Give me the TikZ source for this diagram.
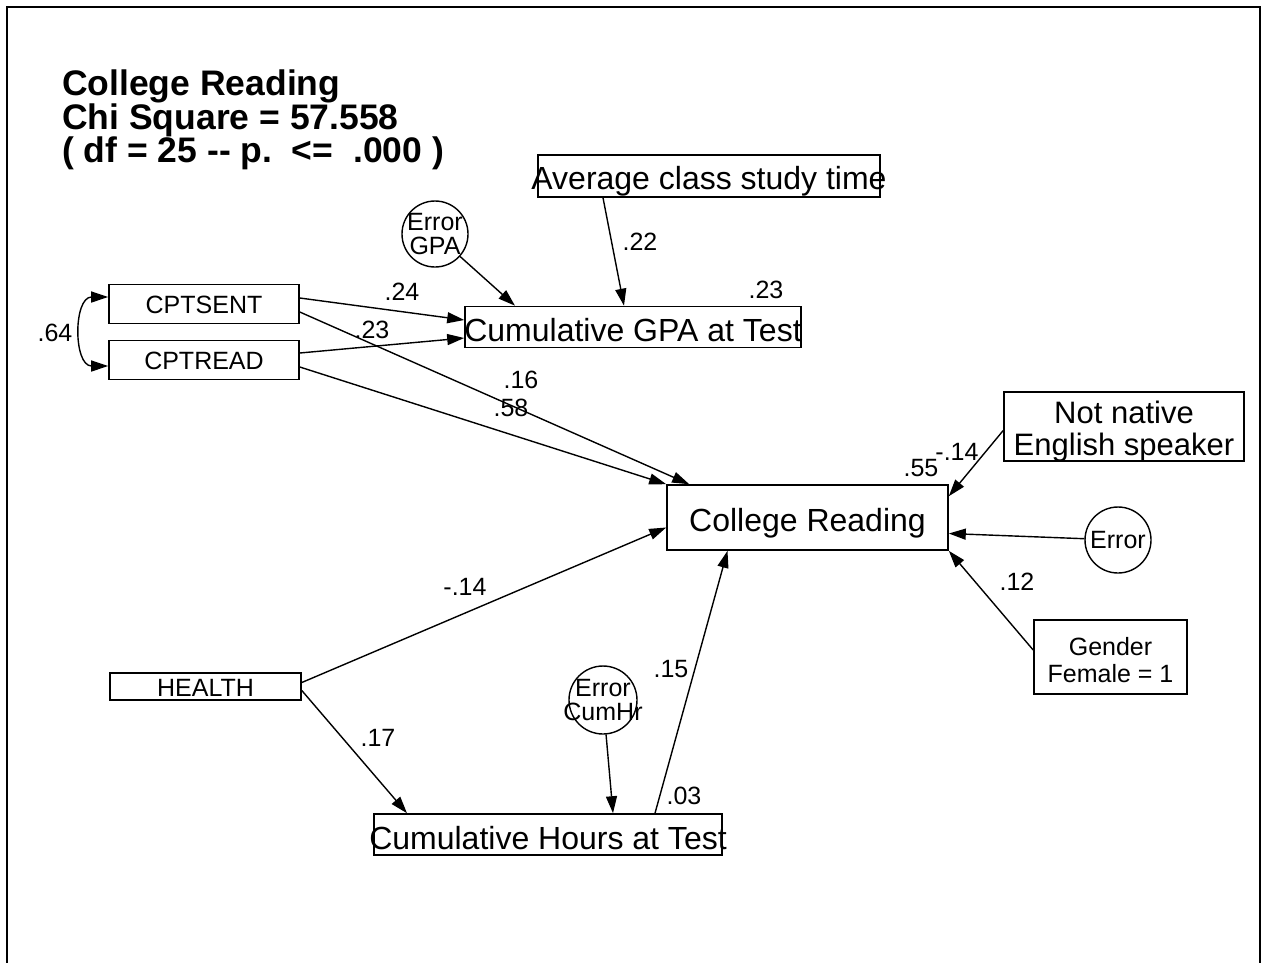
\documentclass[tikz,border=0pt]{standalone}
\usepackage{fontspec}
\setmainfont{Liberation Sans}
\usetikzlibrary{arrows.meta}
\begin{document}
\begin{tikzpicture}[x=1pt,y=-1pt,
  box/.style={draw, line width=1.6pt, rectangle, inner sep=0pt},
  circ/.style={draw, line width=1.4pt, circle, inner sep=0pt, minimum size=66pt},
  arr/.style={line width=1.4pt, -{Triangle[length=17pt,width=11pt]}},
  coef/.style={font=\fontsize{25}{27}\selectfont, inner sep=0pt},
  fbig/.style={font=\fontsize{32}{34}\selectfont},
  fmid/.style={font=\fontsize{31}{32}\selectfont, align=center},
  fsmall/.style={font=\fontsize{25}{27}\selectfont, align=center},
  fcirc/.style={font=\fontsize{25}{24}\selectfont, align=center, inner sep=0pt},
  ttl/.style={anchor=base west, inner sep=0pt, font=\fontsize{35.5}{36}\selectfont\bfseries}]
\useasboundingbox (0,0) rectangle (1266,962);
% frame
\draw[line width=1.6pt] (7,975) -- (7,7) -- (1260,7) -- (1260,975);
% title
\node[ttl] (t1) at (62,95) {College Reading};
\node[ttl] (t2) at (62,129) {Chi Square = 57.558};
\node[ttl] (t3) at (62,162) {( df = 25 -{}- p.\ \ <=\ \ .000 )};
% nodes
\node[box, minimum width=342pt, minimum height=42pt, label={[fbig, yshift=-5pt]center:Average class study time}] (avg) at (709,176) {};
\node[circ, label={[fcirc]center:Error\\GPA}] (errgpa) at (435,234) {};
\node[box, minimum width=190pt, minimum height=39pt, label={[fsmall, yshift=-1pt]center:CPTSENT}] (sent) at (204,304) {};
\node[box, minimum width=190pt, minimum height=39pt, label={[fsmall, yshift=-1pt]center:CPTREAD}] (read) at (204,360) {};
\node[box, minimum width=336pt, minimum height=41pt, label={[fbig, yshift=-3pt]center:Cumulative GPA at Test}] (gpa) at (633,327) {};
\node[box, minimum width=281pt, minimum height=65pt, label={[fbig, yshift=-6pt]center:College Reading}] (cr) at (807.5,517.5) {};
\node[box, minimum width=240pt, minimum height=69pt, label={[fmid, yshift=-5pt]center:Not native\\English speaker}] (notnat) at (1124,426.5) {};
\node[circ, label={[fcirc]center:Error}] (err) at (1118,540) {};
\node[box, minimum width=153pt, minimum height=74pt, label={[fsmall, yshift=-3pt]center:Gender\\Female = 1}] (gender) at (1110.5,657) {};
\node[box, minimum width=191pt, minimum height=27pt, label={[fsmall, yshift=-1pt]center:HEALTH}] (health) at (205.5,686.5) {};
\node[circ, minimum size=68pt, label={[fcirc]center:Error\\CumHr}] (errcum) at (603,700) {};
\node[box, minimum width=348pt, minimum height=41pt, label={[fbig, yshift=-4pt]center:Cumulative Hours at Test}] (cumhrs) at (548,834.5) {};
% connectors
\draw[line width=1.4pt, {Triangle[length=17pt,width=11pt]}-{Triangle[length=17pt,width=11pt]}]
  ([yshift=7pt]sent.west) to[out=180,in=180,looseness=1.3] ([yshift=-6pt]read.west);
\draw[arr] ([yshift=6pt]sent.east) -- ([yshift=7pt]gpa.west);
\draw[arr] ([yshift=7pt]read.east) -- ([yshift=-11pt]gpa.west);
\draw[arr] ([yshift=-8pt]sent.east) -- ([xshift=23pt]cr.north west);
\draw[arr] ([yshift=-7pt]read.east) -- (cr.north west);
\draw[arr] (errgpa) -- ([xshift=-118pt]gpa.north);
\draw[arr] ([xshift=-106pt]avg.south) -- ([xshift=-9pt]gpa.north);
\draw[arr] ([yshift=-4pt]notnat.west) -- ([yshift=-12pt]cr.north east);
\draw[arr] (err) -- ([yshift=-16pt]cr.east);
\draw[arr] ([yshift=7pt]gender.west) -- (cr.south east);
\draw[arr] ([yshift=4pt]health.east) -- ([yshift=-10pt]cr.west);
\draw[arr] ([yshift=-4pt]health.east) -- ([xshift=-141pt]cumhrs.north);
\draw[arr] (errcum) -- ([xshift=65pt]cumhrs.north);
\draw[arr] ([xshift=107pt]cumhrs.north) -- ([xshift=-80pt]cr.south);
% coefficients
\node[coef] (c64) at (55,333) {.64};
\node[coef] (c24) at (402,292) {.24};
\node[coef] (c23a) at (372,330) {.23};
\node[coef] (c22) at (640,242) {.22};
\node[coef] (c23b) at (766,290) {.23};
\node[coef] (c16) at (521,380) {.16};
\node[coef] (c58) at (511,408) {.58};
\node[coef] (c55) at (921,468) {.55};
\node[coef] (c14a) at (957,452) {-.14};
\node[coef] (c14b) at (465,587) {-.14};
\node[coef] (c12) at (1017,582) {.12};
\node[coef] (c15) at (671,669) {.15};
\node[coef] (c17) at (378,738) {.17};
\node[coef] (c03) at (684,796) {.03};
\end{tikzpicture}
\end{document}
